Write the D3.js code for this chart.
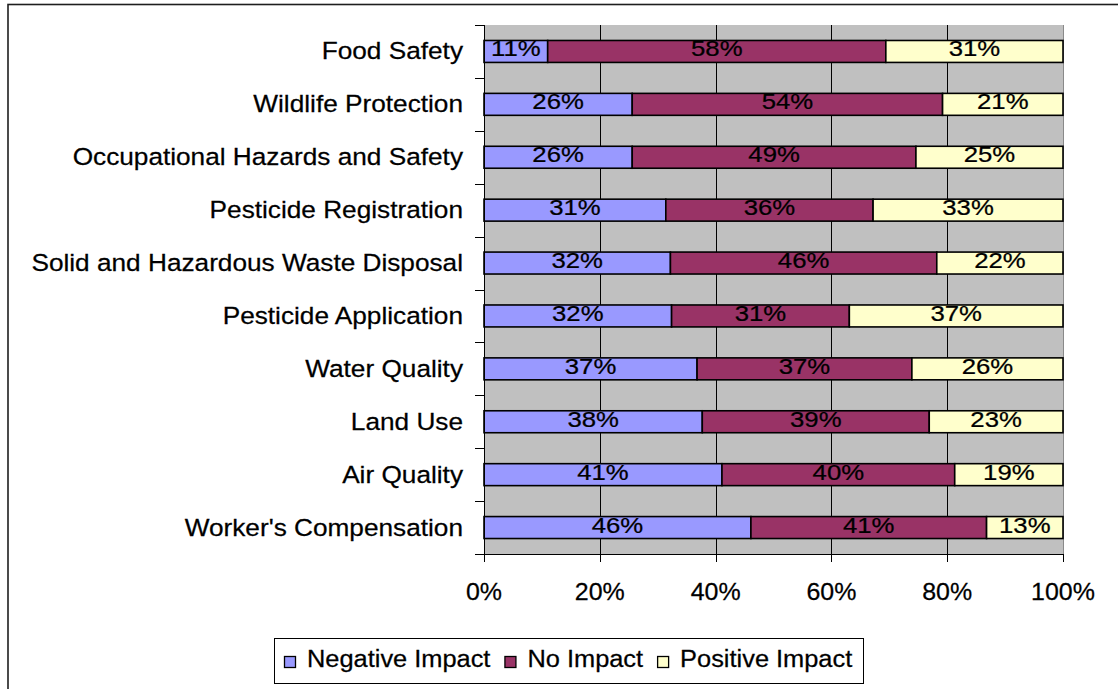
<!DOCTYPE html>
<html>
<head>
<meta charset="utf-8">
<script src="https://cdn.jsdelivr.net/npm/d3@7"></script>
<style>
  html, body { margin: 0; padding: 0; background: #fff; }
  svg { display: block; }
  text { font-family: Arial, "Liberation Sans", sans-serif; fill: #000; stroke: #000; stroke-width: 0.25; }
</style>
</head>
<body>
<svg id="chart" width="1118" height="689"></svg>
<script>
// ---------- data ----------
const categories = [
  "Food Safety",
  "Wildlife Protection",
  "Occupational Hazards and Safety",
  "Pesticide Registration",
  "Solid and Hazardous Waste Disposal",
  "Pesticide Application",
  "Water Quality",
  "Land Use",
  "Air Quality",
  "Worker's Compensation"
];
const negativeImpact = [11.0, 25.6, 25.6, 31.4, 32.2, 32.4, 36.8, 37.7, 41.1, 46.1];
const noImpact       = [58.4, 53.6, 49.0, 35.8, 46.0, 30.7, 37.1, 39.2, 40.2, 40.7];
const positiveImpact = [30.6, 20.8, 25.4, 32.8, 21.8, 36.9, 26.1, 23.1, 18.7, 13.2];
const seriesNames = ["Negative Impact", "No Impact", "Positive Impact"];
const seriesColors = ["#9999FF", "#993366", "#FFFFCC"];
const xTickValues = [0, 0.2, 0.4, 0.6, 0.8, 1];

// ---------- layout ----------
const W = 1118, H = 689;
const plot = { left: 484, right: 1063, top: 25, bottom: 554 };
const svg = d3.select("#chart");

const rows = categories.map((c, i) => ({
  category: c,
  [seriesNames[0]]: negativeImpact[i],
  [seriesNames[1]]: noImpact[i],
  [seriesNames[2]]: positiveImpact[i]
}));
const stack = d3.stack().keys(seriesNames).offset(d3.stackOffsetExpand);
const stacked = stack(rows);

const x = d3.scaleLinear().domain([0, 1]).range([plot.left, plot.right]);
const y = d3.scaleBand().domain(categories).range([plot.top, plot.bottom])
  .paddingInner(0.585).paddingOuter(0.2925);
const color = d3.scaleOrdinal().domain(seriesNames).range(seriesColors);

function stretchedText(sel, sx) {
  return sel.attr("transform", function(d) {
    return d3.select(this).attr("data-t") + ` scale(${sx},1)`;
  });
}

// outer frame
svg.append("rect")
  .attr("x", 8).attr("y", 4.5).attr("width", 1140).attr("height", 720)
  .attr("fill", "#fff").attr("stroke", "#1e1e1e").attr("stroke-width", 1.6);

// plot background
svg.append("rect")
  .attr("x", plot.left).attr("y", plot.top)
  .attr("width", plot.right - plot.left).attr("height", plot.bottom - plot.top)
  .attr("fill", "#C0C0C0");

// vertical gridlines
svg.append("g").selectAll("line").data(xTickValues.filter(v => v > 0)).join("line")
  .attr("x1", d => Math.round(x(d)) + 0.5).attr("x2", d => Math.round(x(d)) + 0.5)
  .attr("y1", plot.top).attr("y2", plot.bottom)
  .attr("stroke", d => d === 1 ? "#8a8a8a" : "#000").attr("stroke-width", 1);

// bars
const layer = svg.append("g").selectAll("g").data(stacked).join("g")
  .attr("fill", d => color(d.key));
layer.selectAll("rect").data(d => d.map(v => Object.assign(v, { key: d.key }))).join("rect")
  .attr("x", d => x(d[0]))
  .attr("y", d => y(d.data.category))
  .attr("width", d => x(d[1]) - x(d[0]))
  .attr("height", y.bandwidth())
  .attr("stroke", "#000").attr("stroke-width", 1.6);

// bar labels
const labelFmt = d3.format(".0%");
const lbl = svg.append("g").selectAll("text")
  .data(stacked.flatMap(s => s.map(v => v)))
  .join("text")
  .attr("data-t", d => `translate(${(x(d[0]) + x(d[1])) / 2},${y(d.data.category) + y.bandwidth() / 2 + 5})`)
  .attr("text-anchor", "middle")
  .attr("font-size", 23)
  .text(d => labelFmt(d[1] - d[0]));
stretchedText(lbl, 1.12);

// axis lines
svg.append("line")
  .attr("x1", plot.left + 0.5).attr("x2", plot.left + 0.5)
  .attr("y1", plot.top).attr("y2", plot.bottom + 8)
  .attr("stroke", "#000");
svg.append("line")
  .attr("x1", plot.left - 9).attr("x2", plot.right)
  .attr("y1", plot.bottom + 0.5).attr("y2", plot.bottom + 0.5)
  .attr("stroke", "#000");

// y-axis tick marks at category boundaries
const boundaries = d3.range(categories.length + 1).map(i => plot.top + i * y.step());
svg.append("g").selectAll("line").data(boundaries).join("line")
  .attr("x1", plot.left - 9).attr("x2", plot.left)
  .attr("y1", d => Math.round(d) + 0.5).attr("y2", d => Math.round(d) + 0.5)
  .attr("stroke", "#000");

// x-axis tick marks
svg.append("g").selectAll("line").data(xTickValues).join("line")
  .attr("x1", d => Math.round(x(d)) + 0.5).attr("x2", d => Math.round(x(d)) + 0.5)
  .attr("y1", plot.bottom).attr("y2", plot.bottom + 8)
  .attr("stroke", "#000");

// x tick labels
const xl = svg.append("g").selectAll("text").data(xTickValues).join("text")
  .attr("data-t", d => `translate(${x(d)},600)`)
  .attr("text-anchor", "middle")
  .attr("font-size", 24)
  .text(d => d3.format(".0%")(d));
stretchedText(xl, 1.04);

// category labels
const cl = svg.append("g").selectAll("text").data(categories).join("text")
  .attr("data-t", d => `translate(${plot.left - 21},${y(d) + y.bandwidth() / 2 + 8})`)
  .attr("text-anchor", "end")
  .attr("font-size", 24.5)
  .text(d => d);
stretchedText(cl, 1.07);

// legend
const legend = { x: 274, y: 638, w: 589, h: 45 };
svg.append("rect")
  .attr("x", legend.x + 0.5).attr("y", legend.y + 0.5)
  .attr("width", legend.w).attr("height", legend.h)
  .attr("fill", "#fff").attr("stroke", "#000").attr("stroke-width", 1);

const lg = svg.append("g");
const sw = 11, gapST = 12, gapItem = 14, lSx = 1.09;
let cx = legend.x + 10;
seriesNames.forEach((name, i) => {
  lg.append("rect")
    .attr("x", cx + 0.5).attr("y", 656.5).attr("width", sw).attr("height", sw)
    .attr("fill", color(name)).attr("stroke", "#000").attr("stroke-width", 1.3);
  const t = lg.append("text")
    .attr("transform", `translate(${cx + sw + gapST},667) scale(${lSx},1)`)
    .attr("font-size", 23.3)
    .text(name);
  const w = t.node().getComputedTextLength() * lSx;
  cx += sw + gapST + w + gapItem;
});
</script>
</body>
</html>
